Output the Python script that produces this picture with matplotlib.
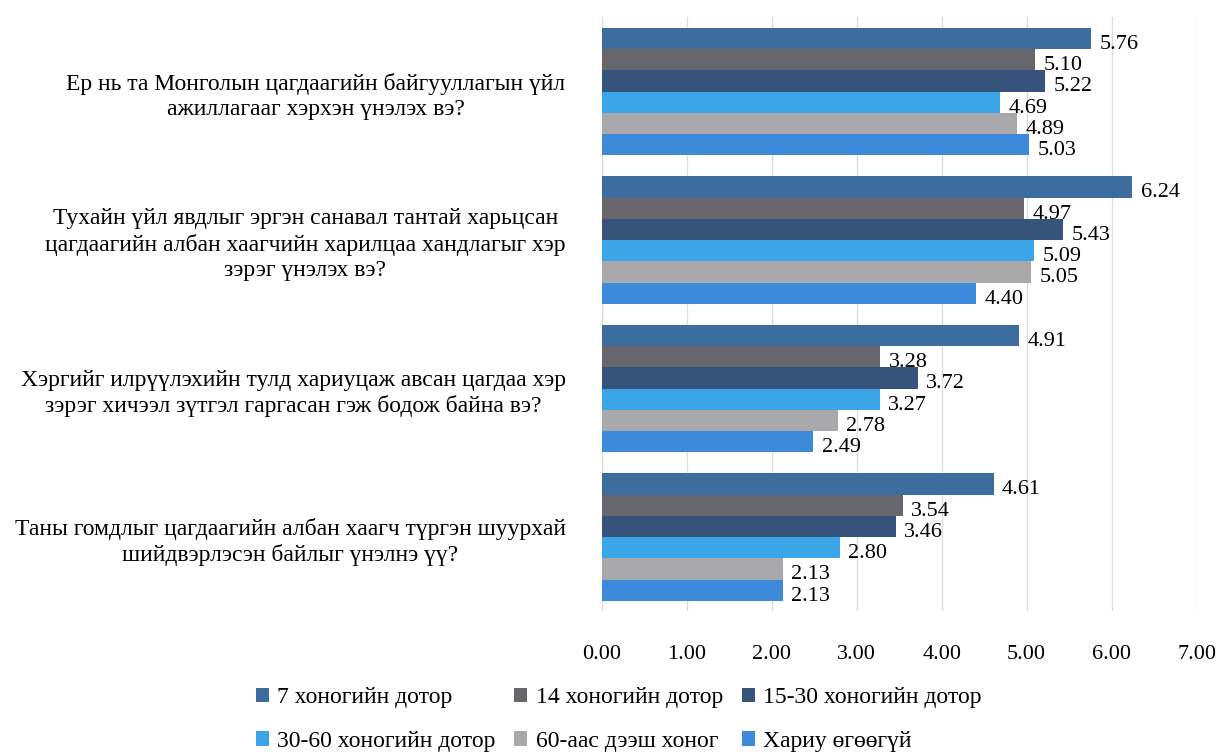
import numpy as np
import matplotlib.pyplot as plt
from matplotlib.patches import Patch

plt.rcParams['font.family'] = ['Liberation Serif', 'DejaVu Serif']

questions = [
    "Ер нь та Монголын цагдаагийн байгууллагын үйл\nажиллагааг хэрхэн үнэлэх вэ?",
    "Тухайн үйл явдлыг эргэн санавал тантай харьцсан\nцагдаагийн албан хаагчийн харилцаа хандлагыг хэр\nзэрэг үнэлэх вэ?",
    "Хэргийг илрүүлэхийн тулд хариуцаж авсан цагдаа хэр\nзэрэг хичээл зүтгэл гаргасан гэж бодож байна вэ?",
    "Таны гомдлыг цагдаагийн албан хаагч түргэн шуурхай\nшийдвэрлэсэн байлыг үнэлнэ үү?",
]
series_names = ["7 хоногийн дотор", "14 хоногийн дотор", "15-30 хоногийн дотор",
                "30-60 хоногийн дотор", "60-аас дээш хоног", "Хариу өгөөгүй"]
values = [
    [5.76, 6.24, 4.91, 4.61],
    [5.10, 4.97, 3.28, 3.54],
    [5.22, 5.43, 3.72, 3.46],
    [4.69, 5.09, 3.27, 2.80],
    [4.89, 5.05, 2.78, 2.13],
    [5.03, 4.40, 2.49, 2.13],
]
colors = ["#3d6c9e", "#66666c", "#36537c", "#3aa6e8", "#a9a9ab", "#3c8ad9"]

fig = plt.figure(figsize=(12.18, 7.52), dpi=100)
ax = fig.add_axes([0.494, 0.187, 0.4885, 0.79])

n = len(series_names)
h = 0.143
y = np.arange(len(questions))
for i, (name, vals) in enumerate(zip(series_names, values)):
    pos = y + (i - (n - 1) / 2) * h
    ax.barh(pos, vals, height=h, color=colors[i], label=name, zorder=2)
    for p, v in zip(pos, vals):
        ax.text(v + 0.1, p + 0.04, f"{v:.2f}", va='center', ha='left', fontsize=16)

ax.set_xlim(0, 7)
ax.set_ylim(len(questions) - 0.5, -0.5)
ax.set_xticks(np.arange(0, 8, 1))
ax.set_xticklabels([f"{t:.2f}" for t in range(8)], fontsize=16)
ax.set_yticks(y)
ax.set_yticklabels(questions, fontsize=17, multialignment='center', linespacing=1.25)
ax.tick_params(axis='both', length=0)
ax.tick_params(axis='x', pad=24)
ax.tick_params(axis='y', pad=26)
ax.grid(axis='x', color='#d9dde3', linewidth=1, zorder=0)
for s in ax.spines.values():
    s.set_visible(False)

# matplotlib fills legend columns first; reorder so rows read 1-2-3 / 4-5-6
order = [0, 3, 1, 4, 2, 5]
handles = [Patch(facecolor=colors[k], edgecolor='none') for k in order]
labels = [series_names[k] for k in order]
fig.legend(handles, labels, loc='lower center', bbox_to_anchor=(0.508, -0.028),
           ncol=3, frameon=False, fontsize=17, handlelength=0.55, handleheight=0.55,
           handletextpad=0.35, columnspacing=0.8, labelspacing=0.95)

fig.savefig("out.png", dpi=100, facecolor='white')
